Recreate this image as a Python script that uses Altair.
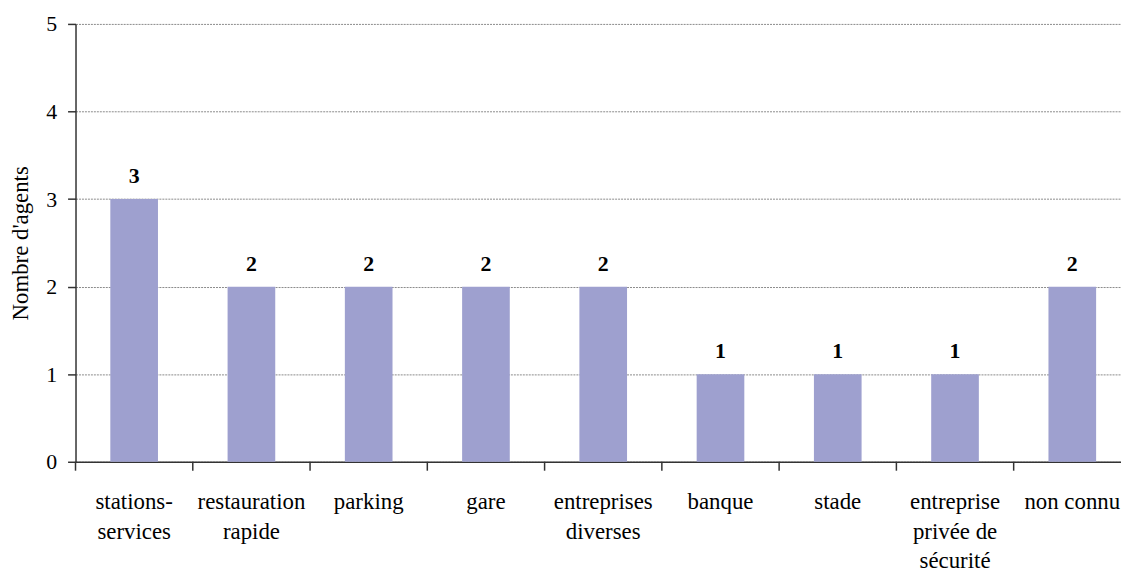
import json
import altair as alt
import pandas as pd

categories = [
    "stations-services",
    "restauration rapide",
    "parking",
    "gare",
    "entreprises diverses",
    "banque",
    "stade",
    "entreprise privée de sécurité",
    "non connu",
]
label_lines = [
    ["stations-", "services"],
    ["restauration", "rapide"],
    ["parking"],
    ["gare"],
    ["entreprises", "diverses"],
    ["banque"],
    ["stade"],
    ["entreprise", "privée de", "sécurité"],
    ["non connu"],
]
values = [3, 2, 2, 2, 2, 1, 1, 1, 2]
y_ticks = [0, 1, 2, 3, 4, 5]

df = pd.DataFrame({"categorie": categories, "agents": values})

FONT = "Liberation Serif"
AXIS_COLOR = "#333333"

label_map = json.dumps(dict(zip(categories, label_lines)), ensure_ascii=False)

x_scale = alt.Scale(range=[0, 1063], paddingInner=0, paddingOuter=0)
x_axis = alt.Axis(
    title=None,
    ticks=False,
    labelExpr=f"({label_map})[datum.label]",
    labelFont=FONT,
    labelFontSize=23,
    labelColor="black",
    labelPadding=29,
    labelLineHeight=30,
    labelAngle=0,
    labelOverlap=False,
    labelBaseline="top",
    domainColor=AXIS_COLOR,
    domainWidth=1.5,
    grid=False,
)

y_enc = alt.Y(
    "agents:Q",
    scale=alt.Scale(domain=[0, 5], nice=False),
    axis=alt.Axis(
        values=y_ticks,
        format="d",
        title="Nombre d'agents",
        grid=True,
        gridColor="#8a8a8a",
        gridDash=[2, 1],
        gridWidth=1,
        tickSize=8,
        tickColor=AXIS_COLOR,
        tickWidth=1.5,
        domainColor=AXIS_COLOR,
        domainWidth=1.5,
        labelFont=FONT,
        labelFontSize=22,
        labelColor="black",
        labelPadding=11,
        titleFont=FONT,
        titleFontSize=23,
        titleFontWeight="normal",
        titleColor="black",
        titlePadding=13,
    ),
)

base = alt.Chart(df)

bars = base.mark_bar(size=48, color="#9EA0CF").encode(
    x=alt.X("categorie:N", sort=categories, scale=x_scale, axis=x_axis),
    y=y_enc,
)

ticks = base.mark_rule(color=AXIS_COLOR, strokeWidth=1.5).encode(
    x=alt.X("categorie:N", sort=categories, scale=x_scale, axis=x_axis, bandPosition=0),
    y=alt.value(441),
    y2=alt.value(450),
)

labels = base.mark_text(
    font=FONT, fontSize=22, fontWeight="bold", baseline="alphabetic", dy=-16, color="black"
).encode(
    x=alt.X("categorie:N", sort=categories, scale=x_scale, axis=x_axis),
    y=alt.Y("agents:Q"),
    text=alt.Text("agents:Q"),
)

chart = (
    alt.layer(bars, ticks, labels)
    .properties(
        width=1053,
        height=441,
        autosize=alt.AutoSizeParams(type="none"),
        padding={"left": 68, "top": 14, "right": 0, "bottom": 111},
    )
    .configure_view(strokeWidth=0)
)

chart.save("out.html", embed_options={"renderer": "svg", "actions": False})
